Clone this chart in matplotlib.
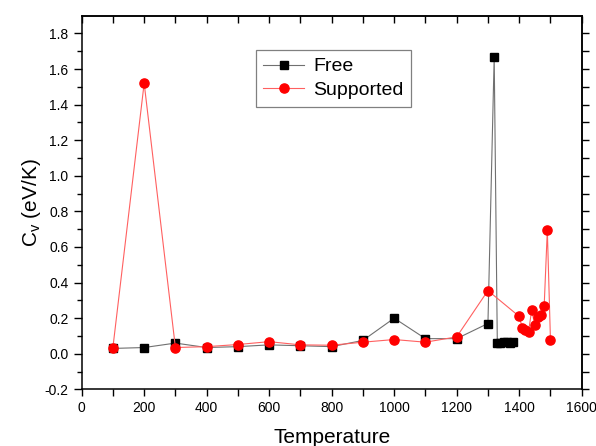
# cv_vs_temperature.py
# Heat capacity C_v against temperature for the free and supported cluster.

import numpy as np
import matplotlib.pyplot as plt

plt.rcParams["font.family"] = ["Liberation Sans", "DejaVu Sans"]

# Free cluster
temp_free = [100, 200, 300, 400, 500, 600, 700, 800, 900, 1000, 1100, 1200,
             1300, 1320, 1330, 1340, 1350, 1360, 1370, 1380]
cv_free = [0.03, 0.035, 0.06, 0.035, 0.04, 0.05, 0.045, 0.04, 0.075, 0.2, 0.085, 0.085,
           0.17, 1.67, 0.06, 0.06, 0.065, 0.065, 0.06, 0.065]

# Supported cluster
temp_supp = [100, 200, 300, 400, 500, 600, 700, 800, 900, 1000, 1100, 1200, 1300,
             1400, 1410, 1420, 1430, 1440, 1450, 1460, 1470, 1480, 1490, 1500]
cv_supp = [0.035, 1.52, 0.035, 0.04, 0.052, 0.068, 0.05, 0.048, 0.065, 0.08, 0.065, 0.095, 0.355,
           0.21, 0.145, 0.135, 0.125, 0.245, 0.16, 0.205, 0.215, 0.27, 0.695, 0.08]

fig = plt.figure(figsize=(5.96, 4.46), dpi=100)
ax = fig.add_axes([0.137, 0.127, 0.839, 0.838])

ax.plot(temp_free, cv_free, color="#707070", linewidth=0.8,
        marker="s", markersize=5.8, markerfacecolor="black", markeredgecolor="black",
        label="Free", zorder=2)
ax.plot(temp_supp, cv_supp, color="#ff6060", linewidth=0.8,
        marker="o", markersize=6.6, markerfacecolor="red", markeredgecolor="red",
        label="Supported", zorder=3)

ax.set_xlim(0, 1600)
ax.set_ylim(-0.2, 1.9)
ax.set_xticks(np.arange(0, 1601, 200))
ax.set_xticks(np.arange(0, 1601, 100), minor=True)
ax.set_yticks(np.arange(-0.2, 1.81, 0.2))
ax.set_yticks(np.arange(-0.2, 1.85, 0.1), minor=True)
ax.yaxis.set_major_formatter(plt.FormatStrFormatter("%.1f"))

ax.tick_params(axis="x", which="both", direction="out", length=5, width=1,
               labelsize=10, top=False)
ax.tick_params(axis="y", which="major", direction="out", length=6, width=1,
               labelsize=10, right=False)
ax.tick_params(axis="y", which="minor", direction="out", length=3.5, width=1, right=False)

# mirrored ticks on the top and right frame
top = ax.secondary_xaxis("top")
top.set_xticks(np.arange(0, 1601, 100))
top.tick_params(direction="in", length=5, width=1, labeltop=False)
right = ax.secondary_yaxis("right")
right.set_yticks(np.arange(-0.2, 1.85, 0.1))
right.tick_params(direction="out", length=5, width=1, labelright=False)

for s in list(ax.spines.values()) + [top.spines["top"], right.spines["right"]]:
    s.set_linewidth(1.1)

ax.set_xlabel("Temperature", fontsize=15, labelpad=9)
ax.set_ylabel(r"C$_\mathregular{v}$ (eV/K)", fontsize=15, labelpad=1)

leg = ax.legend(loc="upper left", bbox_to_anchor=(255.7 / 596, 1 - 50 / 446),
                bbox_transform=fig.transFigure, borderaxespad=0, fontsize=14,
                fancybox=False, framealpha=1, edgecolor="#808080",
                handlelength=2.1, handletextpad=0.45, labelspacing=0.3, borderpad=0.4)
leg.get_frame().set_linewidth(0.9)

fig.savefig("out.png", dpi=100)
